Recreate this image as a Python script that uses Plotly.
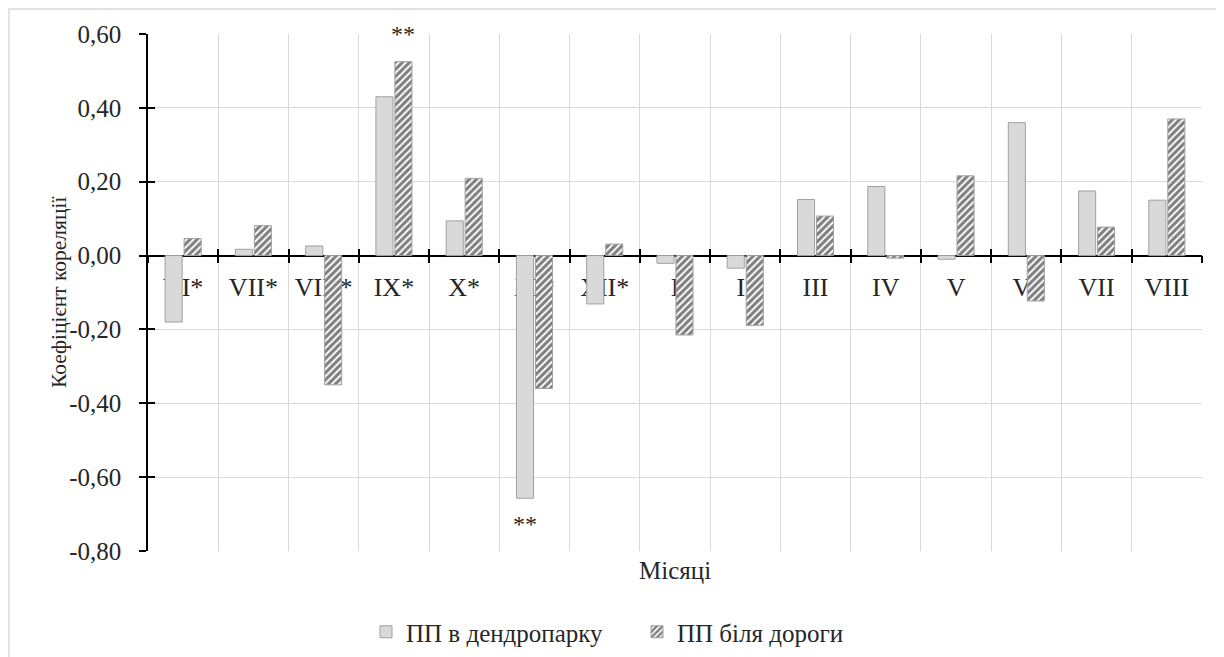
import plotly.graph_objects as go

categories = ["VI*", "VII*", "VIII*", "IX*", "X*", "XI*", "XII*", "I", "II", "III", "IV", "V", "VI", "VII", "VIII"]
park = [-0.18, 0.017, 0.026, 0.43, 0.094, -0.657, -0.131, -0.021, -0.034, 0.152, 0.187, -0.010, 0.36, 0.175, 0.15]
road = [0.046, 0.081, -0.35, 0.525, 0.209, -0.36, 0.031, -0.215, -0.189, 0.107, -0.007, 0.216, -0.123, 0.077, 0.37]
series_names = ["ПП в дендропарку", "ПП біля дороги"]
y_ticks = [-0.8, -0.6, -0.4, -0.2, 0.0, 0.2, 0.4, 0.6]
y_ticktext = [f"{v:.2f}".replace(".", ",") for v in y_ticks]
significant = [("IX*", 1), ("XI*", 0)]  # (category, series index) marked "**"
x_title = "Місяці"
y_title = "Коефіцієнт кореляції"

FONT = "Liberation Serif"
TXT = "#262626"
GRID = "#D9D9D9"

# page body has an 8px margin: figure is 1216x649 placed at (8,8)
W, H = 1216, 649
L, R, T, B = 140, 22, 26, 106
PW, PH = W - L - R, H - T - B

idx = list(range(len(categories)))
bounds = [i - 0.5 for i in range(len(categories) + 1)]
xr = [-0.5, len(categories) - 0.5]
yr = [y_ticks[0], y_ticks[-1]]

bargap = 0.46
bargroupgap = 0.1
slot = (1 - bargap) / 2
offs = [-slot / 2, slot / 2]

fig = go.Figure()
fig.add_trace(go.Bar(
    x=idx, y=park, name=series_names[0],
    marker=dict(color="#D9D9D9", line=dict(color="#A0A0A0", width=1)),
))
fig.add_trace(go.Bar(
    x=idx, y=road, name=series_names[1],
    marker=dict(color="white", line=dict(color="#A0A0A0", width=1),
                pattern=dict(shape="/", fgcolor="#000000", bgcolor="white",
                             size=5, solidity=0.62)),
))
# helper traces so the overlay axes are drawn
fig.add_trace(go.Scatter(x=[None], y=[None], xaxis="x2", yaxis="y", showlegend=False, hoverinfo="skip"))
fig.add_trace(go.Scatter(x=[None], y=[None], xaxis="x3", yaxis="y", showlegend=False, hoverinfo="skip"))
fig.add_trace(go.Scatter(x=[None], y=[None], xaxis="x", yaxis="y2", showlegend=False, hoverinfo="skip"))

zero_pos = (0 - yr[0]) / (yr[1] - yr[0])

def px_x(sx):  # screen x -> paper
    return (sx - 8 - L) / PW

def px_y(sy):  # screen y -> paper
    return (T + PH - (sy - 8)) / PH

annotations = []
series_vals = [park, road]
for cat, s in significant:
    i = categories.index(cat)
    v = series_vals[s][i]
    annotations.append(dict(
        x=i + offs[s], y=v, xref="x", yref="y", text="**", showarrow=False,
        font=dict(family=FONT, size=24, color=TXT),
        yanchor="middle", yshift=28 if v > 0 else -26,
    ))
annotations.append(dict(
    x=px_x(59), y=px_y(293), xref="paper", yref="paper", text=y_title,
    textangle=-90, showarrow=False, font=dict(family=FONT, size=21.5, color=TXT),
    xanchor="center", yanchor="middle",
))
annotations.append(dict(
    x=px_x(675), y=px_y(570), xref="paper", yref="paper", text=x_title,
    showarrow=False, font=dict(family=FONT, size=25, color=TXT),
    xanchor="center", yanchor="middle",
))

fig.update_layout(
    width=W, height=H,
    margin=dict(l=L, r=R, t=T, b=B, autoexpand=False),
    paper_bgcolor="white", plot_bgcolor="white",
    barmode="group", bargap=bargap, bargroupgap=bargroupgap,
    font=dict(family=FONT, color=TXT),
    xaxis=dict(range=xr, tickmode="array", tickvals=bounds, showticklabels=False,
               ticks="", showgrid=True, gridcolor=GRID, gridwidth=1.2,
               zeroline=False, showline=False),
    xaxis2=dict(overlaying="x", anchor="free", position=zero_pos, range=xr,
                tickmode="array", tickvals=idx, ticktext=categories, ticks="",
                showline=True, linecolor="black", linewidth=1.5,
                showgrid=False, zeroline=False, layer="below traces",
                tickfont=dict(family=FONT, size=26, color=TXT),
                ticklabelstandoff=8,
                minor=dict(tickmode="array", tickvals=bounds, ticks="outside",
                           ticklen=7, tickwidth=1.5, tickcolor="black", showgrid=False)),
    xaxis3=dict(overlaying="x", anchor="free", position=zero_pos, range=xr,
                tickmode="array", tickvals=bounds, ticks="inside", ticklen=7,
                tickwidth=1.5, tickcolor="black", showticklabels=False,
                showgrid=False, zeroline=False, showline=False),
    yaxis=dict(range=yr, tickmode="array", tickvals=y_ticks, ticktext=y_ticktext,
               ticks="outside", ticklen=7, tickwidth=1.5, tickcolor="black",
               showline=True, linecolor="black", linewidth=1.5,
               showgrid=True, gridcolor=GRID, gridwidth=1.2, zeroline=False,
               tickfont=dict(family=FONT, size=25, color=TXT),
               ticklabelstandoff=13),
    yaxis2=dict(overlaying="y", anchor="x", side="left", range=yr,
                tickmode="array", tickvals=y_ticks, ticks="inside", ticklen=7,
                tickwidth=1.5, tickcolor="black", showticklabels=False,
                showgrid=False, zeroline=False, showline=False),
    legend=dict(orientation="h", x=px_x(366), xanchor="left",
                y=px_y(632), yanchor="middle",
                font=dict(family=FONT, size=25, color=TXT),
                bgcolor="rgba(0,0,0,0)", itemwidth=30,
                entrywidth=226, entrywidthmode="pixels"),
    annotations=annotations,
    shapes=[dict(type="rect", xref="paper", yref="paper",
                 x0=px_x(9), x1=px_x(1219),
                 y0=px_y(700), y1=px_y(9),
                 line=dict(color=GRID, width=1.5), fillcolor="rgba(0,0,0,0)",
                 layer="below")],
)

fig.write_html("out.html")
